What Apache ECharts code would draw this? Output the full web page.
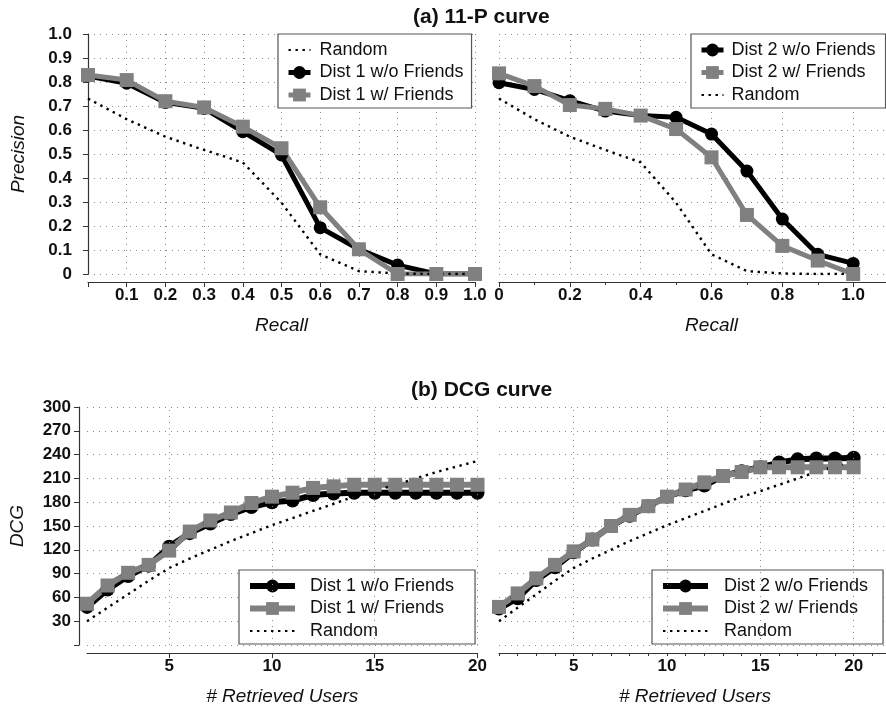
<!DOCTYPE html>
<html>
<head>
<meta charset="utf-8">
<script src="https://cdn.jsdelivr.net/npm/echarts@6/dist/echarts.min.js"></script>
<style>
  html, body { margin: 0; padding: 0; background: #fff; }
  #chart { width: 886px; height: 709px; }
</style>
</head>
<body>
<div id="chart"></div>
<script>
// 11-P curve data
var recall = [0, 0.1, 0.2, 0.3, 0.4, 0.5, 0.6, 0.7, 0.8, 0.9, 1.0];
var p1NoFriends = [0.825, 0.795, 0.715, 0.690, 0.593, 0.496, 0.193, 0.103, 0.037, 0, 0];
var p1Friends = [0.829, 0.808, 0.720, 0.694, 0.614, 0.524, 0.278, 0.103, 0, 0, 0];
var p2NoFriends = [0.797, 0.769, 0.722, 0.679, 0.660, 0.653, 0.583, 0.429, 0.229, 0.082, 0.044];
var p2Friends = [0.836, 0.783, 0.704, 0.688, 0.660, 0.604, 0.486, 0.246, 0.117, 0.056, 0];
var pRandom = [0.731, 0.645, 0.572, 0.517, 0.465, 0.297, 0.082, 0.012, 0.002, 0, 0];

// DCG curve data
var users = [1, 2, 3, 4, 5, 6, 7, 8, 9, 10, 11, 12, 13, 14, 15, 16, 17, 18, 19, 20];
var d1NoFriends = [48, 70, 87, 100, 124, 141, 153, 165, 174, 180, 182, 189, 191, 192, 192, 192, 192, 192, 192, 192];
var d1Friends = [52, 75, 91, 101, 119, 143, 157, 167, 179, 187, 192, 198, 200, 202, 202, 202, 202, 202, 202, 202];
var d2NoFriends = [46, 59, 82, 98, 117, 133, 150, 163, 175, 187, 195, 201, 213, 219, 224, 230, 234, 235, 235, 236];
var d2Friends = [48, 65, 84, 101, 118, 133, 150, 164, 175, 187, 196, 205, 213, 218, 224, 224, 224, 224, 224, 224];
var dRandom = [30, 47, 64, 81, 97, 109, 120, 131, 141, 151, 160, 169, 178, 187, 194, 202, 210, 218, 225, 232];

// tick labels
var recallLabelsLeft = ['0.1', '0.2', '0.3', '0.4', '0.5', '0.6', '0.7', '0.8', '0.9', '1.0'];
var recallLabelsRight = ['0', '0.2', '0.4', '0.6', '0.8', '1.0'];
var precisionLabels = ['0', '0.1', '0.2', '0.3', '0.4', '0.5', '0.6', '0.7', '0.8', '0.9', '1.0'];
var userLabels = ['5', '10', '15', '20'];
var dcgLabels = ['30', '60', '90', '120', '150', '180', '210', '240', '270', '300'];

var FONT = '"Liberation Sans", Arial, Helvetica, sans-serif';
var GRAY = '#808080';

function pairs(xs, ys) {
  return xs.map(function (x, i) { return [x, ys[i]]; });
}
function fmt(v, list) {
  var s = v === 0 ? '0' : (v < 2 ? v.toFixed(1) : String(Math.round(v)));
  return list.indexOf(s) >= 0 ? s : '';
}

var gridLine = { show: true, lineStyle: { color: '#8a8a8a', width: 1, type: [1, 5] } };
var tickLabel = { color: '#111', fontFamily: FONT, fontWeight: 'bold', fontSize: 17 };

function xAxisOf(idx, min, max, interval, labels, name, extra) {
  var a = {
    type: 'value', gridIndex: idx, min: min, max: max, interval: interval, offset: 8,
    name: name, nameLocation: 'middle', nameGap: 34,
    nameTextStyle: { color: '#111', fontFamily: FONT, fontStyle: 'italic', fontSize: 19 },
    axisLine: { show: true, onZero: false, lineStyle: { color: '#333', width: 1.2 } },
    axisTick: { show: true, inside: false, length: 5, lineStyle: { color: '#333' } },
    axisLabel: Object.assign({ margin: 5, formatter: function (v) { return fmt(v, labels); } }, tickLabel),
    splitLine: gridLine
  };
  return Object.assign(a, extra || {});
}
function yAxisOf(idx, min, max, interval, labels, name, show) {
  return {
    type: 'value', gridIndex: idx, min: min, max: max, interval: interval, offset: 8,
    name: show ? name : '', nameLocation: 'middle', nameGap: 52,
    nameTextStyle: { color: '#111', fontFamily: FONT, fontStyle: 'italic', fontSize: 19 },
    axisLine: { show: show, lineStyle: { color: '#333', width: 1.2 } },
    axisTick: { show: show, inside: false, length: 5, lineStyle: { color: '#333' } },
    axisLabel: Object.assign({ show: show, margin: 8, formatter: function (v) { return fmt(v, labels); } }, tickLabel),
    splitLine: gridLine
  };
}

function lineSeries(name, idx, xs, ys, kind, w, size) {
  var s = {
    name: name, type: 'line', xAxisIndex: idx, yAxisIndex: idx,
    data: pairs(xs, ys), animation: false
  };
  if (kind === 'black') {
    s.symbol = 'circle'; s.symbolSize = size; s.itemStyle = { color: '#000' };
    s.lineStyle = { color: '#000', width: w };
  } else if (kind === 'gray') {
    s.symbol = 'rect'; s.symbolSize = size; s.itemStyle = { color: GRAY };
    s.lineStyle = { color: GRAY, width: w };
  } else {
    s.symbol = 'none'; s.itemStyle = { color: '#000' };
    s.lineStyle = { color: '#000', width: 2.4, type: [2.4, 4.6] };
  }
  return s;
}
function dotSeries(idx, xs, ys) {
  return {
    type: 'scatter', xAxisIndex: idx, yAxisIndex: idx, silent: true, animation: false,
    symbol: 'rect', symbolSize: 2, itemStyle: { color: '#fff' }, data: pairs(xs, ys)
  };
}
function vLines(vals) {
  return {
    silent: true, symbol: 'none', label: { show: false }, animation: false,
    lineStyle: { color: '#8a8a8a', width: 1, type: [1, 5] },
    data: vals.map(function (v) { return { xAxis: v }; })
  };
}

function legendItems(names, w) {
  return names.map(function (n) {
    if (n.trim() === 'Random') {
      return { name: n, itemStyle: { opacity: 0 } };
    }
    return { name: n, lineStyle: { width: w } };
  });
}
function legendOf(left, top, names, iconW, textGap, padRight, lw) {
  return {
    left: left, top: top, orient: 'vertical', data: legendItems(names, lw),
    backgroundColor: '#fff', borderColor: '#555', borderWidth: 1.2, borderRadius: 0,
    padding: [6, padRight, 3, 8], itemGap: 2.5, itemWidth: iconW, itemHeight: 16,
    textStyle: { color: '#111', fontFamily: FONT, fontSize: 18, lineHeight: 20, padding: [0, 0, 0, textGap - 5] },
    selectedMode: false
  };
}

var chart = echarts.init(document.getElementById('chart'), null, { renderer: 'canvas' });

var rnd2 = lineSeries('Random ', 1, recall, pRandom, 'random');
var rndB1 = lineSeries('Random', 2, users, dRandom, 'random');
rndB1.markLine = vLines([5, 10, 15, 20]);
var rndB2 = lineSeries('Random ', 3, users, dRandom, 'random');
rndB2.markLine = vLines([5, 10, 15, 20]);

var option = {
  backgroundColor: '#fff',
  animation: false,
  title: [
    { text: '(a) 11-P curve', left: 413, top: 7, padding: 0,
      textStyle: { color: '#111', fontFamily: FONT, fontWeight: 'bold', fontSize: 21 } },
    { text: '(b) DCG curve', left: 411, top: 380, padding: 0,
      textStyle: { color: '#111', fontFamily: FONT, fontWeight: 'bold', fontSize: 21 } }
  ],
  grid: [
    { left: 88, top: 34, width: 387, height: 240, outerBoundsMode: 'none' },
    { left: 499, top: 34, width: 425, height: 240, outerBoundsMode: 'none' },
    { left: 87, top: 407, width: 390.5, height: 238, outerBoundsMode: 'none' },
    { left: 499, top: 407, width: 392, height: 238, outerBoundsMode: 'none' }
  ],
  xAxis: [
    xAxisOf(0, 0, 1, 0.1, recallLabelsLeft, 'Recall'),
    xAxisOf(1, 0, 1.2, 0.2, recallLabelsRight, 'Recall', {
      minorTick: { show: true, splitNumber: 2, length: 3, lineStyle: { color: '#333' } }
    }),
    xAxisOf(2, 1, 20, 1, userLabels, '# Retrieved Users', {
      splitLine: { show: false },
      axisTick: { show: true, length: 5, customValues: [5, 10, 15, 20], lineStyle: { color: '#333' } }
    }),
    xAxisOf(3, 1, 22, 1, userLabels, '# Retrieved Users', {
      splitLine: { show: false },
      axisTick: { show: true, length: 3, lineStyle: { color: '#333' } }
    })
  ],
  yAxis: [
    yAxisOf(0, 0, 1, 0.1, precisionLabels, 'Precision', true),
    yAxisOf(1, 0, 1, 0.1, precisionLabels, '', false),
    yAxisOf(2, 0, 300, 30, dcgLabels, 'DCG', true),
    yAxisOf(3, 0, 300, 30, dcgLabels, '', false)
  ],
  legend: [
    legendOf(278, 34, ['Random', 'Dist 1 w/o Friends', 'Dist 1 w/ Friends'], 22, 9, 8, 5),
    legendOf(691, 34, ['Dist 2 w/o Friends', 'Dist 2 w/ Friends', 'Random '], 22, 8, 10, 5),
    legendOf(239, 570, ['Dist 1 w/o Friends ', 'Dist 1 w/ Friends ', 'Random'], 45, 15, 16, 6),
    legendOf(652, 570, ['Dist 2 w/o Friends ', 'Dist 2 w/ Friends ', 'Random '], 45, 16, 10, 6)
  ],
  series: [
    lineSeries('Dist 1 w/o Friends', 0, recall, p1NoFriends, 'black', 5, 13),
    dotSeries(0, recall, p1NoFriends),
    lineSeries('Dist 1 w/ Friends', 0, recall, p1Friends, 'gray', 5, 14),
    dotSeries(0, recall, p1Friends),
    lineSeries('Random', 0, recall, pRandom, 'random'),

    lineSeries('Dist 2 w/o Friends', 1, recall, p2NoFriends, 'black', 5, 13),
    dotSeries(1, recall, p2NoFriends),
    lineSeries('Dist 2 w/ Friends', 1, recall, p2Friends, 'gray', 5, 14),
    dotSeries(1, recall, p2Friends),
    rnd2,

    lineSeries('Dist 1 w/o Friends ', 2, users, d1NoFriends, 'black', 6, 14),
    dotSeries(2, users, d1NoFriends),
    lineSeries('Dist 1 w/ Friends ', 2, users, d1Friends, 'gray', 6, 14),
    dotSeries(2, users, d1Friends),
    rndB1,

    lineSeries('Dist 2 w/o Friends ', 3, users, d2NoFriends, 'black', 6, 14),
    dotSeries(3, users, d2NoFriends),
    lineSeries('Dist 2 w/ Friends ', 3, users, d2Friends, 'gray', 6, 14),
    dotSeries(3, users, d2Friends),
    rndB2
  ]
};
chart.setOption(option);
</script>
</body>
</html>
